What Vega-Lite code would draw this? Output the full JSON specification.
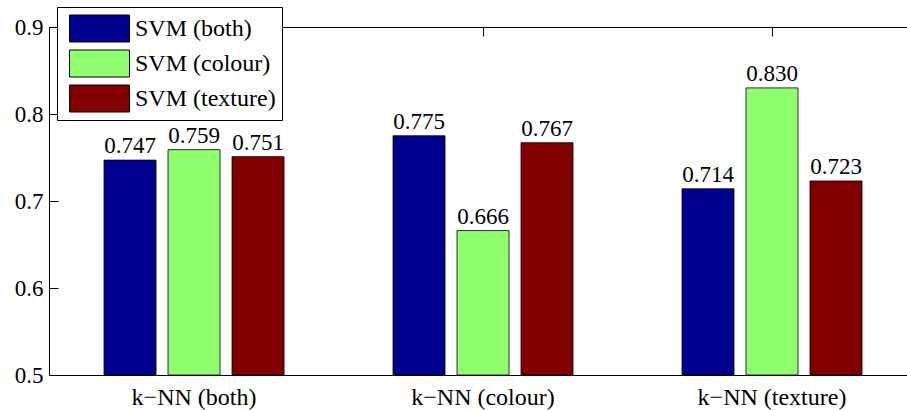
{
  "$schema": "https://vega.github.io/schema/vega-lite/v6.json",
  "width": 858,
  "height": 348,
  "autosize": {"type": "none"},
  "padding": {"left": 49, "top": 27, "right": 0, "bottom": 35},
  "background": "white",
  "config": {
    "font": "Liberation Serif, Times New Roman, serif",
    "view": {"stroke": null},
    "axis": {"grid": false, "domainColor": "black", "tickColor": "black", "labelColor": "black", "labelFont": "Liberation Serif, Times New Roman, serif", "labelFontSize": 23},
    "legend": {"labelFont": "Liberation Serif, Times New Roman, serif"}
  },
  "data": {
    "values": [
      {"knn": "k−NN (both)", "svm": "SVM (both)", "acc": 0.747},
      {"knn": "k−NN (both)", "svm": "SVM (colour)", "acc": 0.759},
      {"knn": "k−NN (both)", "svm": "SVM (texture)", "acc": 0.751},
      {"knn": "k−NN (colour)", "svm": "SVM (both)", "acc": 0.775},
      {"knn": "k−NN (colour)", "svm": "SVM (colour)", "acc": 0.666},
      {"knn": "k−NN (colour)", "svm": "SVM (texture)", "acc": 0.767},
      {"knn": "k−NN (texture)", "svm": "SVM (both)", "acc": 0.714},
      {"knn": "k−NN (texture)", "svm": "SVM (colour)", "acc": 0.830},
      {"knn": "k−NN (texture)", "svm": "SVM (texture)", "acc": 0.723}
    ]
  },
  "encoding": {
    "x": {"field": "knn", "type": "nominal", "sort": null,
      "scale": {"paddingInner": 0.3356, "paddingOuter": 0.1523, "align": 0.557}},
    "xOffset": {"field": "svm", "type": "nominal", "sort": null,
      "scale": {"paddingInner": 0.1875, "paddingOuter": 0.09375}},
    "y": {"field": "acc", "type": "quantitative",
      "scale": {"domain": [0.5, 0.9], "zero": false, "nice": false},
      "axis": {"title": null, "values": [0.5, 0.6, 0.7, 0.8, 0.9], "format": ".1f", "tickSize": -9, "labelPadding": 15, "minExtent": 49, "maxExtent": 49, "labelFont": "Liberation Serif, Times New Roman, serif", "labelFontSize": 23}}
  },
  "layer": [
    {
      "mark": {"type": "bar", "stroke": "black", "strokeWidth": 1, "strokeOpacity": 0.8},
      "encoding": {
        "y2": {"datum": 0.5},
        "x": {"field": "knn", "type": "nominal", "sort": null,
          "axis": {"title": null, "orient": "bottom", "ticks": false, "labelPadding": 10, "labelAngle": 0, "labelFont": "Liberation Serif, Times New Roman, serif", "labelFontSize": 24}},
        "color": {"field": "svm", "type": "nominal", "sort": null,
          "scale": {"domain": ["SVM (both)", "SVM (colour)", "SVM (texture)"], "range": ["#00008F", "#8FFF70", "#800000"]},
          "legend": {
            "title": null, "orient": "none", "legendX": 8, "legendY": -20,
            "symbolType": "M-2,-0.9H2V0.9H-2Z", "symbolSize": 900, "symbolOffset": 21,
            "symbolStrokeColor": "black", "symbolStrokeWidth": 1, "symbolOpacity": 1,
            "labelFont": "Liberation Serif, Times New Roman, serif", "labelFontSize": 24, "labelColor": "black", "labelOffset": 20,
            "strokeColor": "black", "fillColor": "white", "padding": 6, "rowPadding": 4,
            "labelLimit": 300
          }
        }
      }
    },
    {
      "mark": {"type": "text", "baseline": "bottom", "dy": -2, "fontSize": 23, "font": "Liberation Serif, Times New Roman, serif", "color": "black"},
      "encoding": {
        "x": {"field": "knn", "type": "nominal", "sort": null,
          "axis": {"title": null, "orient": "top", "labels": false, "tickSize": -9, "domainColor": "black"}},
        "text": {"field": "acc", "type": "quantitative", "format": ".3f"}
      }
    }
  ],
  "resolve": {"axis": {"x": "independent"}}
}
